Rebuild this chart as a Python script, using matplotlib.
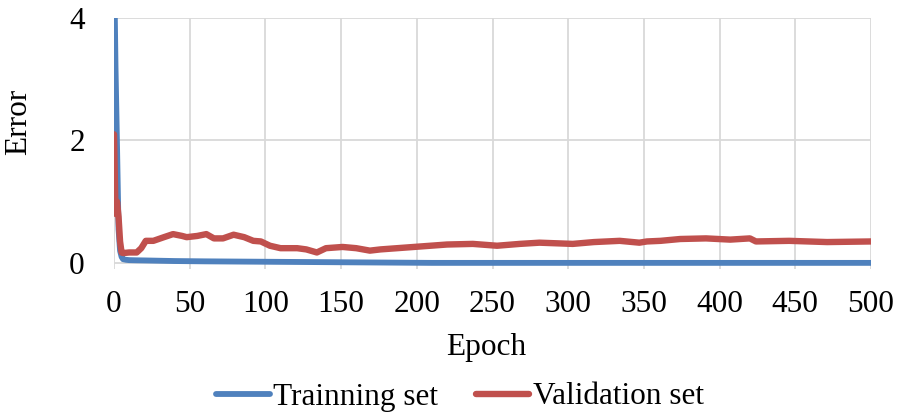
import matplotlib
matplotlib.use("Agg")
import matplotlib.pyplot as plt

# ---- data ----
train_epochs = [0, 1, 2, 3, 4, 5, 6, 8, 10, 15, 20, 30, 40, 60, 90, 120, 150, 180, 210, 250, 300, 350, 400, 450, 500]
train_error = [5.0, 3.2, 1.9, 0.55, 0.2, 0.1, 0.06, 0.05, 0.045, 0.042, 0.04, 0.035, 0.03, 0.025, 0.02, 0.015, 0.01,
               0.005, 0.0, 0.0, 0.0, 0.0, 0.0, 0.0, 0.0]

val_epochs = [0, 1, 2, 3, 4, 5, 6, 10, 15, 18, 21, 26, 33, 39, 45, 48, 55, 61, 66, 72, 79, 86, 92, 97,
              103, 110, 121, 127, 134, 140, 151, 160, 169, 176, 187, 198, 209, 220, 237, 253, 268, 281,
              303, 317, 334, 347, 352, 361, 374, 391, 407, 420, 424, 446, 471, 500]
val_error = [2.1, 0.8, 1.0, 0.75, 0.35, 0.17, 0.16, 0.17, 0.17, 0.24, 0.36, 0.36, 0.42, 0.47, 0.44, 0.42, 0.44,
             0.47, 0.40, 0.40, 0.46, 0.42, 0.36, 0.35, 0.28, 0.24, 0.24, 0.22, 0.17, 0.24, 0.26, 0.24, 0.20,
             0.22, 0.24, 0.26, 0.28, 0.30, 0.31, 0.28, 0.31, 0.33, 0.31, 0.34, 0.36, 0.33, 0.35, 0.36, 0.39,
             0.40, 0.38, 0.40, 0.35, 0.36, 0.34, 0.35]

x_ticks = [0, 50, 100, 150, 200, 250, 300, 350, 400, 450, 500]
y_ticks = [0, 2, 4]

plt.rcParams['font.family'] = ['Liberation Serif', 'DejaVu Serif']
FS = 22.5

W, H = 908, 417
fig = plt.figure(figsize=(W / 100, H / 100), dpi=100)
left, right, top, bottom = 114, 871, 18, 269
ax = fig.add_axes([left / W, 1 - bottom / H, (right - left) / W, (bottom - top) / H])

blue = '#4f81bd'
red = '#c0504d'
grid = '#d9d9d9'

ax.plot(train_epochs, train_error, color=blue, lw=4.2, solid_capstyle='round', solid_joinstyle='round',
        label='Trainning set', zorder=3)
ax.plot(val_epochs, val_error, color=red, lw=4.6, solid_capstyle='round', solid_joinstyle='round',
        label='Validation set', zorder=4)

ax.set_xlim(0, 500)
ax.set_ylim(-0.1, 4.0)
ax.set_xticks(x_ticks)
ax.set_yticks(y_ticks)
ax.grid(True, color=grid, lw=1.3, zorder=0)
for s in ax.spines.values():
    s.set_visible(False)
ax.xaxis.set_tick_params(length=0, labelsize=FS, pad=15)
ax.yaxis.set_tick_params(length=0, labelsize=FS, pad=21)

fig.text(19 / W, 1 - 122 / H, 'Error', rotation=90, ha='center', va='center', fontsize=FS)
fig.text(486 / W, 1 - 348 / H, 'Epoch', ha='center', va='center', fontsize=FS)

fig.legend(loc='center', bbox_to_anchor=(460 / W, 1 - 397 / H), ncol=2, frameon=False,
           fontsize=FS, handlelength=1.7, handletextpad=0.12, columnspacing=1.2,
           borderpad=0, borderaxespad=0)

fig.savefig('out.png', dpi=100)
